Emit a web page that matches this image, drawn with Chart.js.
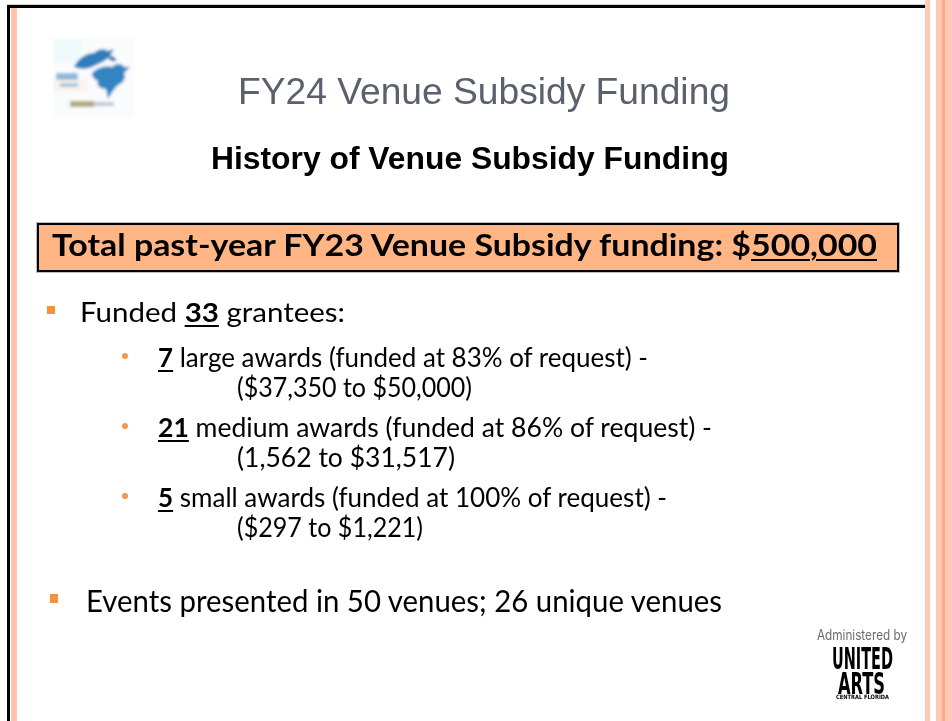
<!DOCTYPE html>
<html><head><meta charset="utf-8">
<script src="https://cdn.jsdelivr.net/npm/chart.js@4.4.0/dist/chart.umd.min.js"></script>
<style>
html,body{margin:0;padding:0;background:#fff;width:952px;height:721px;overflow:hidden}
#slide{position:relative;width:952px;height:721px;background:#fff}
#frame{position:absolute;left:0;top:0}
.t{position:absolute;white-space:nowrap;transform-origin:0 0;}
.mk{display:inline-block;width:0;height:0;vertical-align:baseline}
.box{position:absolute;background:#ffb684;border:2px solid #000;box-shadow:0 0 0 1px #bdbdbd}
.sq{position:absolute;background:#f7913d}
.dot{position:absolute;background:#f79646;border-radius:50%}
u{text-decoration-thickness:2px;text-underline-offset:3px}
</style></head><body>
<div id="slide"><canvas id="frame" width="952" height="721"></canvas></div>
<script>
// ---- data ----
const TITLE = 'FY24 Venue Subsidy Funding';
const SUBTITLE = 'History of Venue Subsidy Funding';
const TOTAL_LABEL = 'Total past-year FY23 Venue Subsidy funding: $';
const TOTAL_FUNDING = '500,000';
const GRANTEES = 33;
const awardSizes = ['large', 'medium', 'small'];
const awardCounts = [7, 21, 5];
const fundedPct = [83, 86, 100];
const awardRanges = ['($37,350 to $50,000)', '(1,562 to $31,517)', '($297 to $1,221)'];
const VENUE_EVENTS = 50;
const UNIQUE_VENUES = 26;

// ---- Chart.js: frame decoration + (hidden) award counts ----
const framePlugin = {
  id: 'slideFrame',
  beforeDraw(chart) {
    const c = chart.ctx;
    c.save();
    c.fillStyle = '#fff'; c.fillRect(0, 0, 952, 721);
    c.fillStyle = '#cfcfcf'; c.fillRect(7, 4, 918, 1);
    c.fillStyle = '#000'; c.fillRect(7, 5, 918, 3);
    c.fillRect(7, 5, 3, 716);
    c.fillStyle = '#ffc8b3'; c.fillRect(11, 8, 6, 713);
    c.fillStyle = '#ffbba0'; c.fillRect(13, 8, 2, 713);
    c.fillStyle = '#ffc9b5'; c.fillRect(925, 0, 5, 721);
    c.fillRect(936, 0, 6, 721);
    c.fillStyle = '#ffab82'; c.fillRect(942, 0, 3, 721);
    c.fillStyle = '#ffc9b5'; c.fillRect(945, 0, 7, 721);
    c.restore();
  }
};
new Chart(document.getElementById('frame'), {
  type: 'bar',
  data: { labels: awardSizes, datasets: [{ label: 'Awards', data: awardCounts, hidden: true }] },
  options: {
    responsive: false, animation: false, devicePixelRatio: 1,
    plugins: { legend: { display: false }, tooltip: { enabled: false } },
    scales: { x: { display: false }, y: { display: false } },
    layout: { padding: 0 }
  },
  plugins: [framePlugin]
});

// ---- text layout ----
const slide = document.getElementById('slide');
function place(html, x, base, size, width, font, color) {
  const d = document.createElement('div');
  d.className = 't';
  d.style.font = font.replace('{s}', size + 'px');
  d.style.lineHeight = size + 'px';
  d.style.color = color || '#000';
  d.innerHTML = html + '<span class="mk"></span>';
  d.style.left = x + 'px'; d.style.top = '0px';
  slide.appendChild(d);
  const off = d.querySelector('.mk').getBoundingClientRect().top - d.getBoundingClientRect().top;
  d.style.top = (base - off) + 'px';
  if (width) {
    const w = d.getBoundingClientRect().width;
    d.style.transform = 'scaleX(' + (width / w) + ')';
  }
  return d;
}
function addDiv(cls, x, y, w, h) {
  const d = document.createElement('div');
  d.className = cls;
  Object.assign(d.style, { left: x + 'px', top: y + 'px', width: w + 'px', height: h + 'px' });
  slide.appendChild(d);
}

const ARIAL = '{s} "Liberation Sans", Arial, sans-serif';
const ARIALB = 'bold {s} "Liberation Sans", Arial, sans-serif';
const BODY = '{s} Lato, "Open Sans", sans-serif';
const BODYB = 'bold {s} Lato, "Open Sans", sans-serif';

// logo (top-left)
const logo = document.createElement('div');
logo.style.cssText = 'position:absolute;left:52px;top:37px;width:84px;height:82px';
logo.innerHTML = `<svg width="84" height="82" viewBox="0 0 84 82">
<defs><filter id="bl" x="-20%" y="-20%" width="140%" height="140%"><feGaussianBlur stdDeviation="1.4"/></filter></defs>
<g filter="url(#bl)">
<rect x="1" y="1" width="82" height="80" fill="#f9fbfc"/>
<rect x="2" y="2" width="28" height="24" fill="#f0f9fb"/>
<rect x="2" y="42" width="34" height="12" fill="#fcf1ec"/>
<path d="M22 30 C26 22 34 16 42 16 C46 12 52 11 56 14 L62 12 L58 19 C54 24 48 26 44 28 C38 32 30 33 22 30 Z" fill="#2e7dbd"/>
<path d="M40 36 C46 30 54 28 60 30 C64 26 70 26 72 30 L78 30 L72 36 C74 40 72 46 66 48 C62 52 58 58 56 62 L54 52 C48 52 44 48 46 44 C42 42 40 40 40 36 Z" fill="#3384c3"/>
<path d="M56 20 C60 18 64 20 64 24 C60 25 57 23 56 20 Z" fill="#2a6aa6"/>
<rect x="4" y="36" width="22" height="7" rx="2" fill="#8dbadb"/>
<rect x="8" y="46" width="18" height="4" fill="#a9c8de"/>
<rect x="18" y="64" width="24" height="6" fill="#b0ab80"/>
<rect x="42" y="65" width="20" height="4" fill="#c2c7d4"/>
</g></svg>`;
slide.appendChild(logo);

place(TITLE, 238, 104, 37, 492, ARIAL, '#5a616d');
place(SUBTITLE, 211, 169, 32, 518, ARIALB, '#000');

// total box
addDiv('box', 37, 223, 858, 45);
place(TOTAL_LABEL + '<u>' + TOTAL_FUNDING + '</u>', 52, 256, 30, 825, BODYB, '#000');

// bullets
addDiv('sq', 47, 306, 8, 8);
place('Funded <b><u>' + GRANTEES + '</u></b> grantees:', 80, 322, 27, 265, BODY, '#000');

const awardBase = [367, 437, 507];
const rangeBase = [397, 467, 537];
const awardW = [490, 554, 509];
const rangeW = [235, 218, 186];
awardCounts.forEach((n, i) => {
  addDiv('dot', 122, awardBase[i] - 14, 6, 6);
  place('<b><u>' + n + '</u></b> ' + awardSizes[i] + ' awards (funded at ' + fundedPct[i] + '% of request) -',
        158, awardBase[i], 27, awardW[i], BODY, '#000');
  place(awardRanges[i], 237, rangeBase[i], 27, rangeW[i], BODY, '#000');
});

addDiv('sq', 50, 594, 8, 9);
place('Events presented in ' + VENUE_EVENTS + ' venues; ' + UNIQUE_VENUES + ' unique venues', 86, 612, 31, 636, BODY, '#000');

// Administered by logo
place('Administered by', 817, 640, 14, 90, '{s} Inter, Lato, sans-serif', '#6b6b6b');
place('UNITED', 832, 669, 31, 61, 'bold {s} "DejaVu Sans Condensed", "DejaVu Sans", sans-serif', '#000');
place('ARTS', 838, 694, 30, 47, 'bold {s} "DejaVu Sans Condensed", "DejaVu Sans", sans-serif', '#000');
place('CENTRAL FLORIDA', 836, 699, 6, 53, 'bold {s} "DejaVu Sans", sans-serif', '#000');
</script>
</body></html>
